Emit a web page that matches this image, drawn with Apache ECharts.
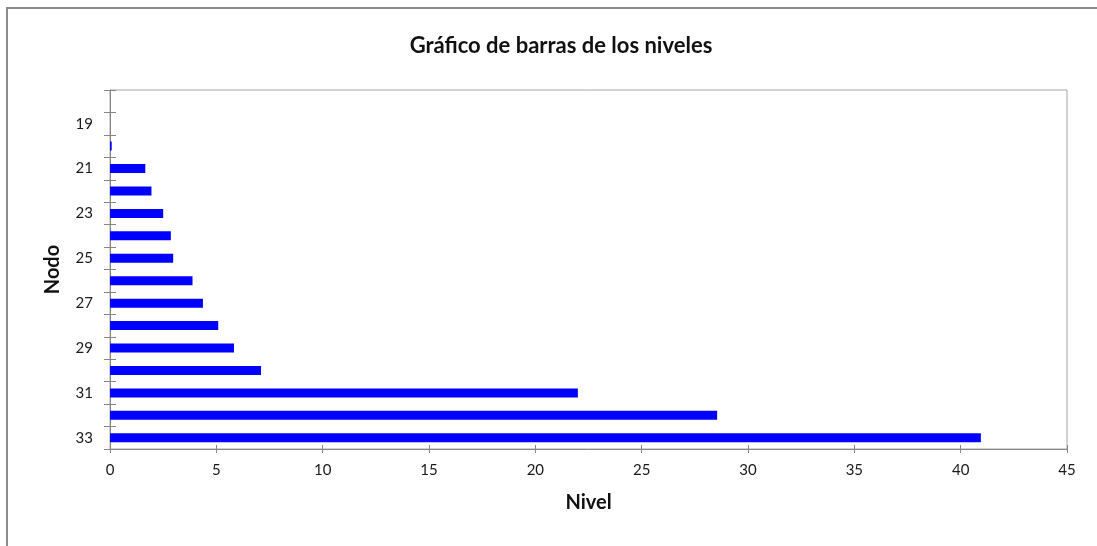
<!DOCTYPE html>
<html>
<head>
<meta charset="utf-8">
<script src="https://cdn.jsdelivr.net/npm/echarts@6/dist/echarts.min.js"></script>
<style>
  html, body { margin: 0; padding: 0; background: #fff; }
  #chart { width: 1097px; height: 546px; }
</style>
</head>
<body>
<div id="chart"></div>
<script>
// Nodes listed bottom-up (33 at the bottom of the axis, 18 at the top)
const nodos = ['33', '32', '31', '30', '29', '28', '27', '26', '25', '24', '23', '22', '21', '20', '19', '18'];
const niveles = [40.95, 28.55, 22.0, 7.1, 5.83, 5.09, 4.37, 3.88, 2.97, 2.86, 2.5, 1.95, 1.66, 0.08, 0, 0];
const xMin = 0, xMax = 45, xStep = 5;

const FONT = 'Lato';
const gridBox = { left: 110, right: 30, top: 90, bottom: 97 };
const axisGray = '#868686';

const chart = echarts.init(document.getElementById('chart'), null, { renderer: 'canvas' });

chart.setOption({
  animation: false,
  backgroundColor: '#fff',
  title: {
    text: 'Gráfico de barras de los niveles',
    left: 556, top: 30, textAlign: 'center',
    textStyle: { fontFamily: FONT, fontSize: 22, fontWeight: 'bold', color: '#111' }
  },
  graphic: [{
    type: 'rect', silent: true, z: -1,
    shape: { x: 7, y: 8, width: 1200, height: 700 },
    style: { fill: 'none', stroke: '#8c8c8c', lineWidth: 2 }
  }],
  grid: [
    Object.assign({ show: true, borderColor: '#a6a6a6', borderWidth: 1 }, gridBox),
    Object.assign({ show: false }, gridBox)
  ],
  xAxis: [{
    gridIndex: 0, type: 'value', min: xMin, max: xMax, interval: xStep,
    name: 'Nivel', nameLocation: 'middle', nameGap: 44,
    nameTextStyle: { fontFamily: FONT, fontSize: 20, fontWeight: 'bold', color: '#111' },
    axisLine: { show: true, lineStyle: { color: axisGray, width: 1 } },
    axisTick: { show: true, inside: false, length: 4, lineStyle: { color: axisGray } },
    axisLabel: { margin: 14, fontFamily: FONT, fontSize: 15, color: '#1a1a1a' },
    splitLine: { show: false }
  }, {
    // inner half of the crossing tick marks
    gridIndex: 1, type: 'value', min: xMin, max: xMax, interval: xStep,
    axisLine: { show: false },
    axisTick: { show: true, inside: true, length: 4, lineStyle: { color: axisGray } },
    axisLabel: { show: false },
    splitLine: { show: false }
  }],
  yAxis: [{
    gridIndex: 0, type: 'category', data: nodos,
    name: 'Nodo', nameLocation: 'middle', nameGap: 47,
    nameTextStyle: { fontFamily: FONT, fontSize: 20, fontWeight: 'bold', color: '#111' },
    axisLine: { show: true, lineStyle: { color: axisGray, width: 1 } },
    axisTick: { show: true, inside: false, length: 6, interval: 0, lineStyle: { color: axisGray } },
    axisLabel: { interval: 1, margin: 17, fontFamily: FONT, fontSize: 15, color: '#1a1a1a' }
  }, {
    gridIndex: 1, type: 'category', data: nodos,
    axisLine: { show: false },
    axisTick: { show: true, inside: true, length: 6, interval: 0, lineStyle: { color: axisGray } },
    axisLabel: { show: false }
  }],
  series: [{
    type: 'bar',
    xAxisIndex: 0, yAxisIndex: 0,
    data: niveles,
    barWidth: 9,
    itemStyle: { color: '#0000ff' }
  }]
});
</script>
</body>
</html>
